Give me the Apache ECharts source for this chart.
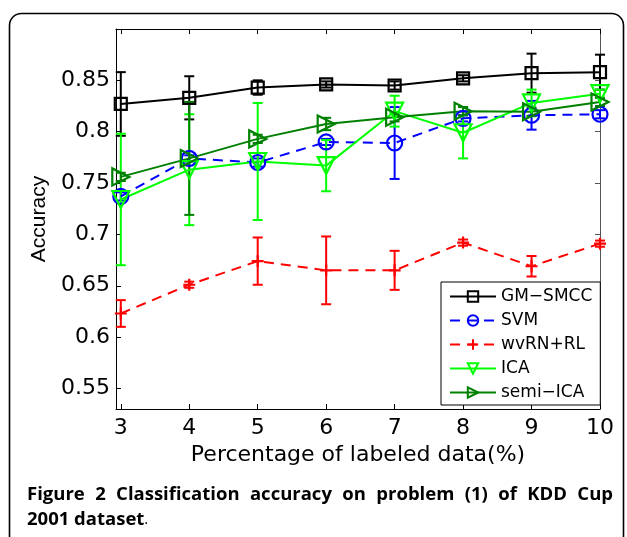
<!DOCTYPE html>
<html>
<head>
<meta charset="utf-8">
<script src="https://cdn.jsdelivr.net/npm/echarts@6/dist/echarts.min.js"></script>
<style>
html,body{margin:0;padding:0;background:#fff;}
#chart{width:627px;height:537px;}
</style>
</head>
<body>
<div id="chart"></div>
<script>
// ---- data ----
const xValues = [3, 4, 5, 6, 7, 8, 9, 10];
const xTicks = [3, 4, 5, 6, 7, 8, 9, 10];
const yTicks = [0.55, 0.6, 0.65, 0.7, 0.75, 0.8, 0.85];
const seriesNames = ['GM−SMCC', 'SVM', 'wvRN+RL', 'ICA', 'semi−ICA'];

const gmSmcc    = [0.827, 0.833, 0.843, 0.846, 0.845, 0.852, 0.857, 0.858];
const gmSmccErr = [0.031, 0.021, 0.007, 0.003, 0.004, 0.003, 0.019, 0.017];

const svm    = [0.737, 0.774, 0.770, 0.790, 0.789, 0.813, 0.816, 0.817];
const svmErr = [0.004, 0.003, 0.004, 0.003, 0.035, 0.003, 0.014, 0.004];

const wvrn    = [0.623, 0.651, 0.674, 0.665, 0.665, 0.692, 0.669, 0.691];
const wvrnErr = [0.013, 0.003, 0.023, 0.033, 0.019, 0.003, 0.010, 0.003];

const ica    = [0.734, 0.763, 0.771, 0.767, 0.820, 0.799, 0.828, 0.837];
const icaErr = [0.064, 0.054, 0.057, 0.025, 0.015, 0.025, 0.013, 0.004];

const semiIca    = [0.756, 0.774, 0.793, 0.8075, 0.814, 0.820, 0.8195, 0.829];
const semiIcaErr = [0.004, 0.055, 0.004, 0.006, 0.004, 0.004, 0.004, 0.004];

const captionLine1 = 'Figure 2 Classification accuracy on problem (1) of KDD Cup';
const captionLine2 = '2001 dataset';

// ---- styling ----
const styles = [
  {vals: gmSmcc, err: gmSmccErr, color: '#000000', dash: 'solid', symbol: 'rect', size: 12, rotate: 0},
  {vals: svm, err: svmErr, color: '#0000ff', dash: [10, 7], symbol: 'circle', size: 15, rotate: 0},
  {vals: wvrn, err: wvrnErr, color: '#ff0000', dash: [10, 7], symbol: 'path://M0,-1L0,1M-1,0L1,0', size: 12, rotate: 0},
  {vals: ica, err: icaErr, color: '#00ff00', dash: 'solid', symbol: 'triangle', size: 17, rotate: 180},
  {vals: semiIca, err: semiIcaErr, color: '#008000', dash: 'solid', symbol: 'triangle', size: 17, rotate: -90}
];

const tickFont = 'DejaVu Sans';
const series = [];
styles.forEach((s, k) => {
  series.push({
    name: seriesNames[k] + '_err',
    type: 'custom',
    xAxisIndex: 0, yAxisIndex: 0,
    data: xValues.map((x, i) => [x, s.vals[i], s.err[i]]),
    encode: {x: 0, y: 1},
    silent: true,
    renderItem: function (params, api) {
      const x = api.value(0), y = api.value(1), e = api.value(2);
      const top = api.coord([x, y + e]);
      const bot = api.coord([x, y - e]);
      const w = 5;
      const st = {stroke: s.color, lineWidth: 2, fill: null};
      return {
        type: 'group',
        children: [
          {type: 'line', shape: {x1: top[0], y1: top[1], x2: bot[0], y2: bot[1]}, style: st},
          {type: 'line', shape: {x1: top[0] - w, y1: top[1], x2: top[0] + w, y2: top[1]}, style: st},
          {type: 'line', shape: {x1: bot[0] - w, y1: bot[1], x2: bot[0] + w, y2: bot[1]}, style: st}
        ]
      };
    }
  });
  series.push({
    name: seriesNames[k],
    type: 'line',
    xAxisIndex: 0, yAxisIndex: 0,
    data: xValues.map((x, i) => [x, s.vals[i]]),
    symbol: s.symbol,
    symbolSize: s.size,
    symbolRotate: s.rotate,
    showAllSymbol: true,
    lineStyle: {color: s.color, width: 2, type: s.dash},
    itemStyle: {color: 'rgba(255,255,255,0)', borderColor: s.color, borderWidth: 2.2},
    emphasis: {disabled: true},
    animation: false
  });
});

// ---- caption layout (justified first line) ----
const capFontSize = 18.5;
const capFamily = '"Open Sans"';
function measure(t) {
  const c = document.createElement('canvas').getContext('2d');
  c.font = 'bold ' + capFontSize + 'px ' + capFamily;
  return c.measureText(t).width;
}
const capLeft = 27, capRight = 613, capY1 = 498, capY2 = 523;
const words = captionLine1.split(' ');
const wWidths = words.map(measure);
const totalW = wWidths.reduce((a, b) => a + b, 0);
const gap = (capRight - capLeft - totalW) / (words.length - 1);
const graphics = [];
let cx = capLeft;
words.forEach((w, i) => {
  graphics.push({
    type: 'text', left: cx, top: capY1 - 13, silent: true,
    style: {text: w, font: 'bold ' + capFontSize + 'px ' + capFamily, fill: '#000'}
  });
  cx += wWidths[i] + gap;
});
graphics.push({
  type: 'text', left: capLeft, top: capY2 - 13, silent: true,
  style: {
    text: '{b|' + captionLine2 + '}{n|.}',
    rich: {
      b: {font: 'bold ' + capFontSize + 'px ' + capFamily, fill: '#000'},
      n: {font: '15px ' + capFamily, fill: '#000'}
    }
  }
});
graphics.push({
  type: 'rect', silent: true,
  shape: {x: 9.5, y: 13.5, width: 614, height: 620, r: 12},
  style: {fill: null, stroke: '#000', lineWidth: 1.6}
});

const chart = echarts.init(document.getElementById('chart'), null, {renderer: 'canvas'});
chart.setOption({
  animation: false,
  backgroundColor: '#fff',
  grid: {left: 116, right: 27, top: 29, bottom: 128, containLabel: false, outerBoundsMode: 'none'},
  xAxis: [{
    type: 'value', min: 2.93, max: 10, position: 'bottom',
    axisLine: {show: true, onZero: false, lineStyle: {color: '#000', width: 1}},
    axisTick: {show: true, inside: true, length: 5, customValues: xTicks, lineStyle: {color: '#000'}},
    axisLabel: {show: true, customValues: xTicks, fontFamily: tickFont, fontSize: 22, color: '#000', margin: 8},
    splitLine: {show: false},
    name: 'Percentage of labeled data(%)', nameLocation: 'middle', nameGap: 33,
    nameTextStyle: {fontFamily: tickFont, fontSize: 22, color: '#000'}
  }, {
    type: 'value', min: 2.93, max: 10, position: 'top',
    axisLine: {show: true, onZero: false, lineStyle: {color: '#000', width: 1}},
    axisTick: {show: true, inside: true, length: 5, customValues: xTicks, lineStyle: {color: '#000'}},
    axisLabel: {show: false, customValues: xTicks},
    splitLine: {show: false}
  }],
  yAxis: [{
    type: 'value', min: 0.53, max: 0.9, position: 'left',
    axisLine: {show: true, onZero: false, lineStyle: {color: '#000', width: 1}},
    axisTick: {show: true, inside: true, length: 5, customValues: yTicks, lineStyle: {color: '#000'}},
    axisLabel: {show: true, customValues: yTicks, fontFamily: tickFont, fontSize: 22, color: '#000', margin: 6},
    splitLine: {show: false},
    name: 'Accuracy', nameLocation: 'middle', nameGap: 56,
    nameTextStyle: {fontFamily: 'Liberation Sans', fontSize: 21, color: '#000'}
  }, {
    type: 'value', min: 0.53, max: 0.9, position: 'right',
    axisLine: {show: true, onZero: false, lineStyle: {color: '#555', width: 1}},
    axisTick: {show: true, inside: true, length: 5, customValues: yTicks, lineStyle: {color: '#555'}},
    axisLabel: {show: false, customValues: yTicks},
    splitLine: {show: false}
  }],
  legend: {
    data: seriesNames,
    orient: 'vertical',
    left: 441, top: 282,
    width: 156,
    padding: [6, 8, 4, 8],
    itemWidth: 46, itemHeight: 13, itemGap: 7,
    borderColor: '#000', borderWidth: 1,
    backgroundColor: '#fff',
    selectedMode: false,
    textStyle: {fontFamily: tickFont, fontSize: 17, color: '#000', padding: [0, 0, 0, 0]}
  },
  graphic: graphics,
  series: series
});
</script>
</body>
</html>
